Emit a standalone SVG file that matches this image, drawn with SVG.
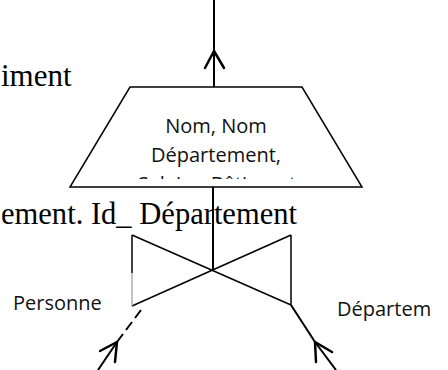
<svg xmlns="http://www.w3.org/2000/svg" width="448" height="370" viewBox="0 0 448 370">
  <style>
    .bg { font-family: "Liberation Serif", "Times New Roman", serif; font-size: 31px; fill: #000; }
    .lbl { font-family: "Open Sans", "Liberation Sans", sans-serif; font-size: 20px; fill: #111; }
    .edge { fill: none; stroke: #000; stroke-width: 1.5; }
    .conn { fill: none; stroke: #000; stroke-width: 2; }
    .head { fill: none; stroke: #000; stroke-width: 2.5; stroke-linecap: round; stroke-linejoin: round; }
  </style>
  <defs>
    <clipPath id="boxClip">
      <rect x="60" y="87" width="320" height="92"/>
    </clipPath>
  </defs>
  <rect width="448" height="370" fill="#fff"/>

  <!-- background text of the page -->
  <text class="bg" x="1" y="86">iment</text>
  <text class="bg" x="1" y="224" textLength="296" lengthAdjust="spacingAndGlyphs">ement. Id_ Département</text>

  <!-- connectors -->
  <g id="connectors">
    <!-- output upward -->
    <line class="conn" x1="214" y1="0" x2="214" y2="87"/>
    <polyline class="head" points="205,68 214,51 224,68"/>
    <!-- projection to join -->
    <line class="conn" x1="213" y1="187" x2="213" y2="271"/>
    <!-- Personne input (dashed) -->
    <line class="conn" x1="141" y1="310" x2="117" y2="342" stroke-dasharray="10,5"/>
    <line class="conn" x1="117" y1="342" x2="98" y2="370"/>
    <polyline class="head" points="100,351 117,342 115,362"/>
    <!-- Département input -->
    <line class="conn" x1="291" y1="305" x2="315" y2="342"/>
    <line class="conn" x1="315" y1="342" x2="336" y2="370"/>
    <polyline class="head" points="332,352 315,342 316,362"/>
  </g>

  <!-- projection node -->
  <g id="projection">
    <polygon class="edge" points="130,87 302,87 362,187 70,187" fill="#fff"/>
    <g clip-path="url(#boxClip)">
      <text class="lbl" x="216" y="133" text-anchor="middle">Nom, Nom</text>
      <text class="lbl" x="216" y="162" text-anchor="middle">Département,</text>
      <text class="lbl" x="217" y="191" text-anchor="middle">Salaire, Bâtiment</text>
    </g>
  </g>

  <!-- join node (bow tie) -->
  <g id="join">
    <line class="edge" x1="132" y1="235" x2="291" y2="305"/>
    <line class="edge" x1="132" y1="306" x2="291" y2="235"/>
    <line class="edge" x1="132" y1="235" x2="132" y2="273"/>
    <line x1="132" y1="273" x2="132" y2="306" stroke="#999" stroke-width="1.2"/>
    <line class="edge" x1="291" y1="235" x2="291" y2="305"/>
  </g>

  <!-- relation labels -->
  <g id="personne">
    <text class="lbl" x="13" y="310">Personne</text>
  </g>
  <g id="departement">
    <text class="lbl" x="337" y="316">Départem</text>
  </g>
</svg>
